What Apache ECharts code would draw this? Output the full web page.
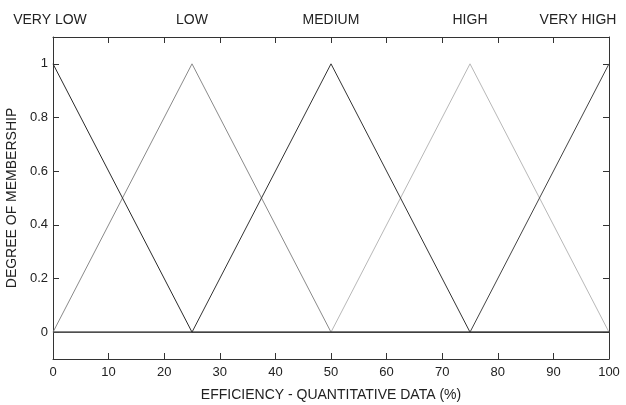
<!DOCTYPE html>
<html>
<head>
<meta charset="utf-8">
<script src="https://cdn.jsdelivr.net/npm/echarts@6/dist/echarts.min.js"></script>
<style>html,body{margin:0;padding:0;background:#fff}#c{width:626px;height:405px}</style>
</head>
<body>
<div id="c"></div>
<script>
// ---- data ----
var xPoints = [0, 25, 50, 75, 100];
var veryLow  = [1, 0, 0, 0, 0];
var low      = [0, 1, 0, 0, 0];
var medium   = [0, 0, 1, 0, 0];
var high     = [0, 0, 0, 1, 0];
var veryHigh = [0, 0, 0, 0, 1];
var setNames = ['VERY LOW', 'LOW', 'MEDIUM', 'HIGH', 'VERY HIGH'];
var yTicks = [0, 0.2, 0.4, 0.6, 0.8, 1];
var xTitle = 'EFFICIENCY - QUANTITATIVE DATA (%)';
var yTitle = 'DEGREE OF MEMBERSHIP';

function pairs(ys) { return xPoints.map(function (x, i) { return [x, ys[i]]; }); }

var FONT = '"Liberation Sans", Arial, sans-serif';
var TXT = '#222';
var LINE = '#333';

var chart = echarts.init(document.getElementById('c'), null, {renderer: 'canvas'});

function mkSeries(name, ys, color, z) {
  return {
    name: name, type: 'line', data: pairs(ys), xAxisIndex: 0, yAxisIndex: 0,
    symbol: 'none', z: z, animation: false,
    lineStyle: {color: color, width: 1}
  };
}

chart.setOption({
  backgroundColor: '#fff',
  animation: false,
  grid: {left: 53, right: 17, top: 37, bottom: 46, containLabel: false, outerBoundsMode: 'none'},
  xAxis: [
    {
      type: 'value', position: 'bottom', min: 0, max: 100, interval: 10,
      name: xTitle, nameLocation: 'middle', nameGap: 29,
      nameTextStyle: {fontFamily: FONT, fontSize: 14, color: TXT},
      axisLine: {show: true, onZero: false, lineStyle: {color: LINE, width: 1}},
      axisTick: {show: true, inside: true, length: 6, lineStyle: {color: LINE}},
      axisLabel: {fontFamily: FONT, fontSize: 13, color: TXT, margin: 7},
      splitLine: {show: false}
    },
    {
      type: 'value', position: 'top', min: 0, max: 100, interval: 10,
      axisLine: {show: true, onZero: false, lineStyle: {color: LINE, width: 1}},
      axisTick: {show: true, inside: true, length: 6, lineStyle: {color: LINE}},
      axisLabel: {show: false},
      splitLine: {show: false}
    },
    {
      type: 'value', position: 'top', min: 0, max: 100, interval: 25,
      axisLine: {show: false},
      axisTick: {show: false},
      splitLine: {show: false},
      axisLabel: {
        show: true, showMinLabel: true, showMaxLabel: true, margin: 10,
        fontFamily: FONT, fontSize: 14, color: TXT,
        formatter: function (v) {
          var i = Math.round(v / 25);
          var n = setNames[i];
          if (i === 0) return '{a|' + n + '}';
          if (i === setNames.length - 1) return '{b|' + n + '}';
          return n;
        },
        rich: {
          a: {fontFamily: FONT, fontSize: 14, color: TXT, padding: [0, 6, 0, 0]},
          b: {fontFamily: FONT, fontSize: 14, color: TXT, padding: [0, 62, 0, 0]}
        }
      }
    }
  ],
  yAxis: [
    {
      type: 'value', position: 'left', min: -0.1, max: 1.1,
      name: yTitle, nameLocation: 'middle', nameGap: 26, nameRotate: 90,
      nameTextStyle: {fontFamily: FONT, fontSize: 14, color: TXT},
      axisLine: {show: true, onZero: false, lineStyle: {color: LINE, width: 1}},
      axisTick: {show: true, inside: true, length: 6, customValues: yTicks, lineStyle: {color: LINE}},
      axisLabel: {fontFamily: FONT, fontSize: 13, color: TXT, margin: 5, customValues: yTicks,
        formatter: function (v) { return String(Math.round(v * 10) / 10); }},
      splitLine: {show: false}
    },
    {
      type: 'value', position: 'right', min: -0.1, max: 1.1,
      axisLine: {show: true, onZero: false, lineStyle: {color: LINE, width: 1}},
      axisTick: {show: true, inside: true, length: 6, customValues: yTicks, lineStyle: {color: LINE}},
      axisLabel: {show: false},
      splitLine: {show: false}
    }
  ],
  series: [
    mkSeries(setNames[3], high, '#b8b8b8', 2),
    mkSeries(setNames[1], low, '#8a8a8a', 3),
    mkSeries(setNames[2], medium, '#333333', 4),
    mkSeries(setNames[4], veryHigh, '#444444', 5),
    mkSeries(setNames[0], veryLow, '#2a2a2a', 6)
  ]
});
</script>
</body>
</html>
